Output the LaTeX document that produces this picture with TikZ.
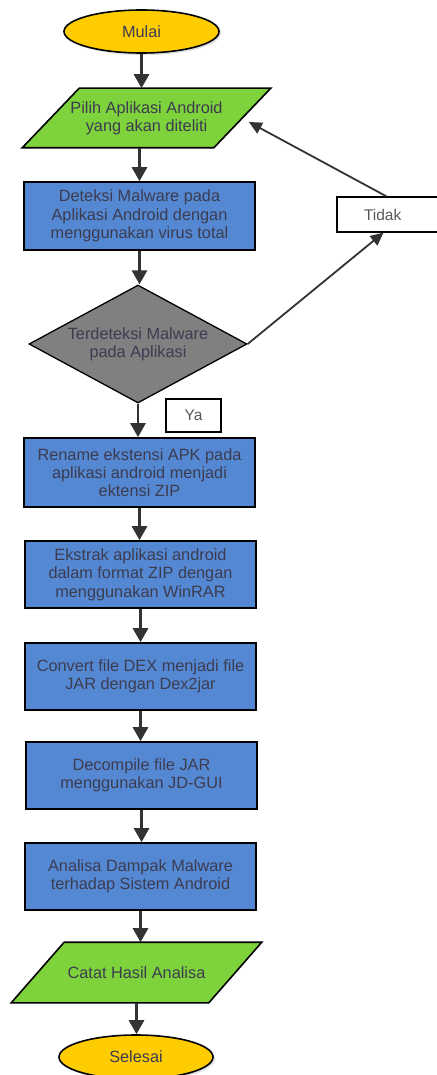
\documentclass[tikz,border=0pt]{standalone}
\usepackage{fontspec}
\setmainfont{Liberation Sans}
\usetikzlibrary{shapes.geometric, arrows.meta, shadows, backgrounds}

\definecolor{termfill}{HTML}{FFCC00}
\definecolor{iofill}{HTML}{7ED23C}
\definecolor{procfill}{HTML}{5588D3}
\definecolor{decfill}{HTML}{808080}
\definecolor{txt}{HTML}{3C3C50}
\definecolor{flowline}{HTML}{333333}

\tikzset{
  base/.style={draw=black, line width=1.6pt, text=txt, align=center, inner sep=0pt,
    font=\fontsize{16.3}{18.3}\selectfont},
  term/.style={base, ellipse, fill=termfill, minimum width=155pt, minimum height=43pt,
    drop shadow={opacity=0.25, shadow xshift=2pt, shadow yshift=-2pt}},
  iobox/.style={base, draw=none, rectangle, minimum width=247pt, minimum height=58pt},
  iopoly/.style={draw=black, line width=1.6pt, fill=iofill},
  procbox/.style={base, rectangle, fill=procfill, minimum width=231pt, minimum height=68pt},
  decbox/.style={draw=black, line width=1.3pt, diamond, fill=decfill, inner sep=0pt,
    minimum width=218pt, minimum height=118pt},
  tagbox/.style={draw=black, line width=1.2pt, fill=white, text=black!65,
    font=\fontsize{15.5}{17}\selectfont, inner sep=0pt},
  flow/.style={draw=flowline, line width=2.8pt, -{Triangle[length=14pt, width=15pt]}},
  back/.style={draw=flowline, line width=1.8pt, -{Triangle[length=13pt, width=12pt]}}
}

\begin{document}
\begin{tikzpicture}[x=1pt, y=-1pt]

\useasboundingbox (0,0) rectangle (436,1075);

\node[term] (mulai) at (141.5,31.5) {Mulai};
\node[iobox] (pilih) at (146.5,118) {Pilih Aplikasi Android\\yang akan diteliti};
\node[procbox] (deteksi) at (139.5,216) {Deteksi Malware pada\\Aplikasi Android dengan\\menggunakan virus total};
\node[decbox, label={[text=txt, align=center, font=\fontsize{16.3}{18.3}\selectfont]center:Terdeteksi Malware\\pada Aplikasi}] (cek) at (138,344) {};
\node[procbox, minimum height=69pt] (rename) at (139.5,472.5) {Rename ekstensi APK pada\\aplikasi android menjadi\\ektensi ZIP};
\node[procbox, minimum height=67pt] (ekstrak) at (140.5,574.5) {Ekstrak aplikasi android\\dalam format ZIP dengan\\menggunakan WinRAR};
\node[procbox, minimum height=67pt] (convert) at (140.5,676.5) {Convert file DEX menjadi file\\JAR dengan Dex2jar};
\node[procbox, minimum height=67pt] (decompile) at (141.5,775.5) {Decompile file JAR\\menggunakan JD-GUI};
\node[procbox, minimum height=67pt] (analisa) at (140.5,876.5) {Analisa Dampak Malware\\terhadap Sistem Android};
\node[iobox, minimum width=249pt, minimum height=59pt] (catat) at (136.5,972.5) {Catat Hasil Analisa};
\node[term, minimum width=154pt, minimum height=44pt] (selesai) at (136,1057) {Selesai};

% parallelograms behind the input/output texts
\begin{pgfonlayer}{background}
\draw[iopoly] (pilih.south west) -- ([xshift=57pt]pilih.north west) -- (pilih.north east)
  -- ([xshift=-57pt]pilih.south east) -- cycle;
\draw[iopoly] (catat.south west) -- ([xshift=53pt]catat.north west) -- (catat.north east)
  -- ([xshift=-53pt]catat.south east) -- cycle;
\end{pgfonlayer}

% labels of the decision
\node[tagbox, minimum width=55pt, minimum height=33pt] (ya) at (193.5,415.5) {Ya};
\node[tagbox, minimum width=103pt, minimum height=35pt, text width=97pt, align=left] (tidak) at (388.5,214.5) {\hspace{24pt}Tidak};

% main flow
\draw[flow] (mulai.south) -- (mulai.south |- pilih.north);
\draw[flow] (deteksi.north |- pilih.south) -- (deteksi.north);
\draw[flow] (deteksi.south) -- (deteksi.south |- cek.north);
\draw[flow] (cek.south) -- (cek.south |- rename.north);
\draw[flow] (rename.south) -- (rename.south |- ekstrak.north);
\draw[flow] (ekstrak.south) -- (ekstrak.south |- convert.north);
\draw[flow] (convert.south) -- (convert.south |- decompile.north);
\draw[flow] (decompile.south) -- (decompile.south |- analisa.north);
\draw[flow] (analisa.south) -- (analisa.south |- catat.north);
\draw[flow] (catat.south) -- (catat.south |- selesai.north);

% loop back
\draw[back] (cek.east) -- ([xshift=-5pt]tidak.south);
\draw[back] ([xshift=-2pt]tidak.north) -- ([xshift=-22pt, yshift=-4pt]pilih.east);

\end{tikzpicture}
\end{document}
